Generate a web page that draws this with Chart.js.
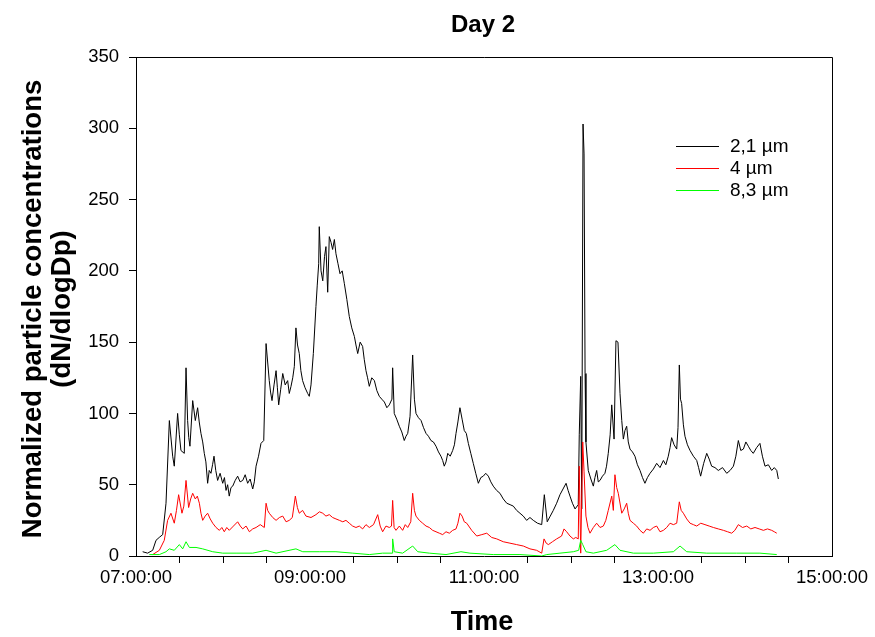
<!DOCTYPE html>
<html>
<head>
<meta charset="utf-8">
<script src="https://cdn.jsdelivr.net/npm/chart.js@4.4.1/dist/chart.umd.min.js"></script>
<style>
  body { margin: 0; background: #fff; }
  #wrap { width: 875px; height: 637px; }
</style>
</head>
<body>
<div id="wrap"><canvas id="chart" width="875" height="637"></canvas></div>
<script>
// time values are minutes after 07:00:00
const blackT = [
  4.6, 8, 11.5, 13.8, 16, 18.4, 20.7, 23, 25.3, 26.4,
  28.7, 29.9, 31, 33.3, 34.5, 35.6, 36.4, 37.2, 39.1, 40.9,
  42.5, 43.6, 44.8, 46, 47.1, 48.2, 49.4, 50.5, 51.7, 52.8,
  53.8, 55, 56.3, 58, 59.8, 61, 62.1, 63.2, 64.3, 65.5,
  66.7, 68.4, 70.1, 71.8, 73.6, 75.3, 77, 78.7, 80.5, 81.6,
  82.8, 84.5, 86.2, 88.1, 89.7, 91.9, 92.8, 93.8, 95.2, 96.6,
  97.5, 98.4, 99.8, 101.2, 102.9, 104.6, 105.7, 106.9, 108.1, 109.2,
  110.3, 111.4, 112.6, 113.7, 114.9, 116.6, 118.4, 119.5, 120.7, 122.3,
  124.1, 125, 126, 126.4, 127.6, 128.8, 130, 131, 132.2, 133.3,
  134.5, 135.6, 136.8, 137.9, 139.3, 140.7, 142.2, 143.7, 145.4, 147.1,
  148.8, 150.6, 151.7, 152.9, 154.6, 156.3, 157.4, 158.6, 159.7, 160.9,
  162.6, 164.4, 166.1, 167.8, 169.5, 171.3, 173, 174.7, 176.5, 177,
  178.1, 179.8, 181.6, 183.3, 185, 186.2, 187.4, 189, 190.8, 192,
  193.1, 194.8, 196.6, 198.3, 200, 201.7, 203.4, 205.1, 206.9, 208.6,
  210.3, 211.5, 212.6, 213.8, 215, 216.7, 218.4, 219.6, 220.7, 222,
  223.4, 224.9, 226.4, 227.8, 229.2, 230.9, 232.6, 234.3, 236.1, 237.8,
  239.5, 241.2, 243, 244.7, 246.4, 248.7, 251, 253.3, 255.7, 258,
  260.2, 262.5, 264.8, 267.1, 269.4, 271.7, 274, 276.9, 279.8, 281.6,
  283.6, 285.7, 287.8, 290.1, 292.4, 294.5, 296.6, 298, 299.3, 301,
  302.8, 305, 305.7, 306.7, 307.4, 308.3, 309, 309.7, 310.3, 311.9,
  313.7, 315.4, 316.5, 317.7, 318.8, 320, 321.7, 323.4, 324.5, 325.7,
  327, 328.1, 329.7, 331, 332.4, 333.8, 335, 336.1, 337.2, 338.4,
  339.5, 340.7, 342.4, 344.1, 345.8, 347.6, 349.3, 351, 352.7, 354.5,
  356.8, 359.1, 361.4, 363.7, 365.4, 367.1, 368.3, 369.4, 371.1, 372.9,
  373.8, 374.7, 375.5, 376.3, 377.5, 378.6, 380.3, 382.1, 384.4, 386.7,
  388, 389.4, 391.5, 393.6, 395.3, 397, 399.3, 401.6, 404.5, 407.4,
  409.7, 412, 413.7, 415.4, 417.1, 418.9, 420.6, 422.3, 424, 425.7,
  428, 430.3, 432, 433.8, 436.1, 438.4, 440.2, 441.9, 443];
const blackVals = [
  3, 2, 4, 11, 13, 15, 37, 95, 70, 63,
  100, 85, 74, 72, 132, 95, 83, 77, 109, 95,
  104, 94, 86, 80, 72, 66, 51, 60, 58, 64,
  70, 60, 53, 58, 51, 55, 46, 50, 42, 48,
  49, 53, 56, 52, 53, 57, 51, 54, 47, 52,
  63, 70, 79, 81, 149, 123, 115, 109, 120, 130,
  118, 106, 117, 128, 120, 123, 114, 119, 125, 133,
  160, 148, 142, 130, 123, 118, 114, 112, 120, 142,
  175, 190, 205, 231, 200, 193, 210, 217, 185, 224,
  220, 215, 222, 212, 205, 198, 200, 191, 180, 168,
  160, 154, 148, 142, 150, 147, 138, 130, 125, 119,
  125, 123, 116, 112, 110, 108, 104, 106, 110, 132,
  100, 96, 91, 87, 81, 84, 86, 98, 141, 110,
  100, 97, 95, 90, 86, 84, 81, 80, 77, 73,
  70, 67, 63, 66, 72, 70, 74, 78, 86, 94,
  104, 96, 88, 86, 79, 72, 65, 58, 51, 55,
  56, 58, 56, 52, 49, 46, 44, 40, 37, 36,
  35, 32, 30, 28, 25, 27, 25, 23, 22, 43,
  24, 28, 32, 37, 43, 47, 51, 46, 42, 37,
  33, 36, 85, 126, 33, 303, 282, 128, 80, 60,
  54, 49, 55, 60, 52, 53, 56, 58, 63, 72,
  85, 106, 82, 151, 150, 114, 95, 82, 88, 91,
  80, 75, 73, 70, 64, 60, 55, 51, 55, 58,
  61, 65, 62, 67, 64, 70, 76, 83, 78, 75,
  90, 134, 110, 107, 92, 84, 78, 74, 70, 67,
  62, 56, 65, 72, 68, 63, 62, 60, 62, 58,
  60, 63, 70, 81, 74, 75, 80, 77, 74, 72,
  76, 79, 70, 63, 64, 60, 62, 60, 54];

const redT = [
  11.5, 16.1, 19.5, 21.8, 24.1, 26.4, 27.9, 29.4, 31.7, 33,
  34.5, 36.3, 37.7, 39.1, 40.9, 42.3, 43.7, 44.8, 46, 47.7,
  49.4, 51.2, 52.9, 55.2, 57.5, 59.2, 60.9, 62.6, 64.3, 67.2,
  70.1, 71.9, 73.6, 75.9, 78.2, 80.5, 82.8, 85.7, 88.5, 89.7,
  90.8, 91.9, 94.3, 96.6, 98.9, 101.2, 103.5, 105.7, 107.8, 109.9,
  111.3, 112.6, 114.9, 117.2, 120.7, 124.1, 126.5, 128.8, 131, 133.3,
  135.6, 137.9, 140.3, 142.6, 144.8, 147.1, 149.4, 151.7, 154, 156.3,
  158.6, 160.9, 163.8, 166.7, 168.4, 170.1, 172.4, 174.7, 176.2, 177,
  178, 179.3, 181.6, 183.9, 185.7, 187.4, 189.5, 190.8, 192, 193.1,
  195.4, 197.7, 200, 202.3, 204.6, 206.9, 209.2, 211.5, 213.8, 216.1,
  218.4, 220.7, 222, 223.4, 224.9, 226.4, 228.1, 231.5, 235, 238.5,
  241.9, 245.3, 248.8, 253.3, 257.9, 262.5, 267.1, 271.7, 276.3, 279.8,
  281.4, 282.9, 284.4, 287.2, 290.1, 293.5, 295.2, 297, 299.3, 301.6,
  303.3, 305, 305.7, 306.7, 308.1, 309, 310.3, 311.7, 313.1, 315.4,
  317.7, 320, 322.3, 324, 325.7, 328.1, 329.2, 330.3, 331.5, 332.6,
  335, 336.7, 338.4, 339.5, 340.7, 343, 345.3, 347.6, 349.9, 352.2,
  354.5, 356.8, 359.1, 361.4, 363.7, 366, 368.3, 370.6, 372.9, 374.7,
  376, 377.5, 379.8, 382.1, 384.4, 386.7, 389.5, 392.4, 395.3, 398.2,
  401.6, 405.1, 408, 410.8, 413, 415.4, 418.3, 421.2, 424, 426.9,
  429.8, 432.7, 435.5, 438.4, 440.2, 441.9];
const redVals = [
  1, 4, 11, 25, 30, 23, 32, 43, 30, 35,
  53, 34, 40, 44, 40, 42, 37, 30, 25, 28,
  30, 26, 23, 20, 18, 20, 17, 20, 18, 21,
  24, 21, 19, 21, 17, 19, 20, 22, 20, 37,
  32, 30, 27, 25, 27, 28, 24, 25, 27, 42,
  34, 30, 32, 28, 27, 29, 31, 30, 28, 29,
  27, 26, 25, 24, 25, 23, 21, 20, 21, 19,
  22, 20, 22, 29, 21, 17, 21, 20, 21, 39,
  20, 18, 21, 18, 22, 20, 24, 44, 32, 28,
  25, 23, 21, 20, 18, 17, 16, 15, 17, 16,
  18, 19, 23, 30, 28, 24, 23, 18, 14, 15,
  16, 13, 12, 10, 9, 8, 7, 5, 4, 2,
  12, 9, 8, 10, 12, 14, 19, 17, 14, 12,
  13, 12, 63, 2, 80, 59, 28, 20, 16, 20,
  23, 20, 21, 25, 32, 42, 32, 57, 48, 44,
  30, 33, 37, 30, 25, 23, 21, 18, 16, 19,
  18, 20, 21, 17, 18, 20, 23, 22, 23, 38,
  32, 30, 26, 23, 22, 21, 23, 22, 21, 20,
  19, 18, 17, 16, 18, 22, 20, 21, 19, 20,
  19, 18, 19, 18, 17, 16];

const greenT = [9.2, 16.1, 20.7, 23, 26.4, 29.9, 32.2, 34.5, 36.8, 41.4, 46, 52.9, 59.8, 69, 80.5, 89.7, 96.6, 110.3, 115, 126.4,
  137.9, 149.5, 160.9, 170.1, 176.6, 177, 178.1, 183.9, 190.8, 194.3, 202.3, 213.8, 224.1, 230.3, 246.4, 264.8, 279.8, 283.3, 292.4, 301.6,
  305.3, 306.7, 308.1, 310.3, 315.4, 324.6, 330.3, 333.8, 343, 356.8, 370.6, 375.2, 379.8, 393.6, 414.3, 430.3, 441.9];
const greenVals = [1, 1, 3, 5, 4, 8, 5, 10, 6, 6, 5, 3, 2, 2, 2, 4, 2, 5, 3, 3,
  3, 2, 1, 2, 2, 12, 3, 2, 7, 3, 2, 1, 3, 2, 1, 1, 0, 1, 2, 3,
  4, 11, 8, 3, 2, 4, 8, 4, 2, 2, 3, 7, 3, 2, 2, 2, 1];

const seriesLabels = ['2,1 µm', '4 µm', '8,3 µm'];
const seriesColors = ['#000000', '#ff0000', '#00ff00'];
const yTicks = [0, 50, 100, 150, 200, 250, 300, 350];

const FONT = '"Liberation Sans", Arial, sans-serif';

function pts(t, v) { return t.map((x, i) => ({ x: x, y: v[i] })); }

function clock(min) {
  const h = 7 + Math.floor(min / 60);
  const m = min % 60;
  return String(h).padStart(2, '0') + ':' + String(m).padStart(2, '0') + ':00';
}

// titles, frame and the legend inside the plot
const decor = {
  id: 'decor',
  afterDraw(chart) {
    const c = chart.ctx, a = chart.chartArea;
    c.save();
    c.strokeStyle = '#000';
    c.lineWidth = 1;
    c.beginPath();
    c.moveTo(a.left, a.top + 0.5);
    c.lineTo(a.right + 0.5, a.top + 0.5);
    c.lineTo(a.right + 0.5, a.bottom);
    c.stroke();

    c.fillStyle = '#000';
    c.textAlign = 'center';
    c.textBaseline = 'middle';
    c.font = 'bold 24px ' + FONT;
    c.fillText('Day 2', 483, 25);
    c.font = 'bold 27px ' + FONT;
    c.fillText('Time', 482, 623);
    c.save();
    c.translate(33, 309);
    c.rotate(-Math.PI / 2);
    c.font = 'bold 27.5px ' + FONT;
    c.fillText('Normalized particle concentrations', 0, 0);
    c.fillText('(dN/dlogDp)', 0, 29);
    c.restore();

    // legend
    c.font = '19px ' + FONT;
    c.textAlign = 'left';
    chart.data.datasets.forEach((ds, i) => {
      const y = 146 + i * 22;
      c.strokeStyle = ds.borderColor;
      c.beginPath();
      c.moveTo(676, y + 0.5);
      c.lineTo(719, y + 0.5);
      c.stroke();
      c.fillStyle = '#000';
      c.fillText(ds.label, 730, y + 1);
    });
    c.restore();
  }
};

new Chart(document.getElementById('chart'), {
  type: 'line',
  data: {
    datasets: [
      { label: seriesLabels[0], data: pts(blackT, blackVals), borderColor: seriesColors[0], order: 3 },
      { label: seriesLabels[1], data: pts(redT, redVals), borderColor: seriesColors[1], order: 2 },
      { label: seriesLabels[2], data: pts(greenT, greenVals), borderColor: seriesColors[2], order: 1 }
    ]
  },
  options: {
    responsive: false,
    animation: false,
    layout: { padding: { left: 0, top: 57, right: 43, bottom: 0 } },
    elements: {
      line: { borderWidth: 1, tension: 0 },
      point: { radius: 0 }
    },
    plugins: {
      legend: { display: false },
      title: { display: false },
      tooltip: { enabled: false }
    },
    scales: {
      x: {
        type: 'linear',
        min: 0,
        max: 480,
        afterFit(s) { s.height = 81; },
        border: { color: '#000', width: 1 },
        grid: {
          drawOnChartArea: false,
          tickLength: 7,
          tickColor: (ctx) => (ctx.tick && ctx.tick.value % 120 === 0) ? 'rgba(0,0,0,0)' : '#000'
        },
        ticks: {
          stepSize: 30,
          autoSkip: false,
          maxRotation: 0,
          padding: 4,
          color: '#000',
          font: { family: FONT, size: 18.5 },
          callback: (v) => v % 120 === 0 ? clock(v) : ''
        }
      },
      y: {
        min: 0,
        max: 350,
        afterFit(s) { s.width = 136; },
        afterBuildTicks(s) { s.ticks = yTicks.map(v => ({ value: v })); },
        border: { color: '#000', width: 1 },
        grid: { drawOnChartArea: false, tickLength: 7, tickColor: '#000' },
        ticks: {
          padding: 10,
          color: '#000',
          font: { family: FONT, size: 18.5 }
        }
      }
    }
  },
  plugins: [decor]
});
</script>
</body>
</html>
